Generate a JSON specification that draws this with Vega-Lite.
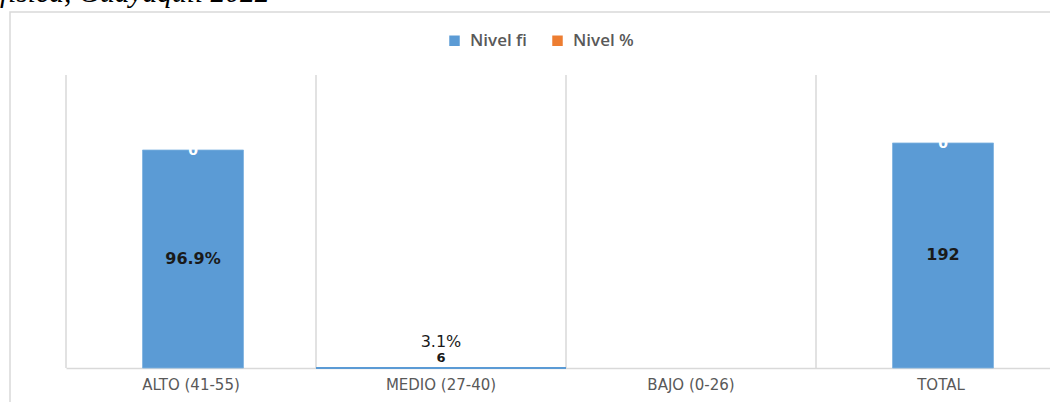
{
  "$schema": "https://vega.github.io/schema/vega-lite/v6.json",
  "autosize": {"type": "none"},
  "padding": {"left": 10, "top": 12, "right": 0, "bottom": 0},
  "width": 1070,
  "height": 400,
  "background": "#ffffff",
  "title": {
    "text": "física, Guayaquil 2022",
    "orient": "top",
    "anchor": "start",
    "frame": "group",
    "baseline": "alphabetic",
    "offset": 0,
    "dx": -10,
    "dy": 19,
    "font": "Liberation Serif",
    "fontStyle": "italic",
    "fontWeight": "normal",
    "fontSize": 29.5,
    "color": "#000000"
  },
  "config": {
    "view": {"stroke": "#d9d9d9", "strokeWidth": 1.5},
    "axis": {"grid": false}
  },
  "data": {
    "values": [
      {"nivel": "ALTO (41-55)", "fi": 186, "pct": "96.9%", "centro": "96.9%"},
      {"nivel": "MEDIO (27-40)", "fi": 6, "pct": "3.1%", "centro": "6"},
      {"nivel": "BAJO (0-26)", "fi": 0, "pct": "0%", "centro": ""},
      {"nivel": "TOTAL", "fi": 192, "pct": "100%", "centro": "192"}
    ]
  },
  "encoding": {
    "x": {
      "field": "nivel",
      "type": "nominal",
      "sort": null,
      "scale": {"range": [56, 1056], "paddingInner": 0, "paddingOuter": 0},
      "axis": {
        "title": null,
        "orient": "bottom",
        "offset": -44,
        "labelAngle": 0,
        "ticks": false,
        "domainColor": "#d9d9d9",
        "domainWidth": 1.5,
        "labelFont": "DejaVu Sans",
        "labelFontSize": 15,
        "labelColor": "#595959",
        "labelPadding": 9
      }
    }
  },
  "layer": [
    {
      "mark": {"type": "rule", "color": "#d9d9d9", "strokeWidth": 1.5},
      "encoding": {
        "x": {"field": "nivel", "type": "nominal", "sort": null, "bandPosition": 0},
        "y": {"datum": 0, "type": "quantitative", "scale": {"domain": [0, 250], "range": [356, 63], "nice": false}, "axis": null},
        "y2": {"datum": 250}
      }
    },
    {
      "transform": [{"filter": {"field": "nivel", "oneOf": ["ALTO (41-55)", "TOTAL"]}}],
      "mark": {"type": "bar", "width": {"band": 0.404}, "xOffset": 2, "stroke": "#7fb3e0", "strokeWidth": 0.8},
      "encoding": {
        "y": {"field": "fi", "type": "quantitative"},
        "color": {
          "datum": "Nivel fi",
          "type": "nominal",
          "scale": {"domain": ["Nivel fi", "Nivel %"], "range": ["#5B9BD5", "#ED7D31"]},
          "legend": {
            "title": null,
            "orient": "none",
            "direction": "horizontal",
            "legendX": 436,
            "legendY": 20,
            "symbolType": "square",
            "symbolSize": 110,
            "symbolStrokeWidth": 0,
            "labelFont": "Open Sans",
            "labelFontSize": 17,
            "labelFontWeight": 600,
            "labelColor": "#595959",
            "labelOffset": 7,
            "columnPadding": 22
          }
        }
      }
    },
    {
      "transform": [{"filter": {"field": "nivel", "equal": "MEDIO (27-40)"}}],
      "mark": {"type": "rule", "color": "#5B9BD5", "strokeWidth": 2},
      "encoding": {
        "x": {"field": "nivel", "type": "nominal", "sort": null, "bandPosition": 0},
        "x2": {"field": "nivel", "bandPosition": 1},
        "y": {"datum": 0, "type": "quantitative"}
      }
    },
    {
      "transform": [
        {"filter": {"field": "nivel", "oneOf": ["ALTO (41-55)", "TOTAL"]}},
        {"calculate": "datum.fi / 2", "as": "mitad"}
      ],
      "mark": {"type": "text", "font": "DejaVu Sans", "fontSize": 16, "fontWeight": "bold", "color": "#1a1a1a", "baseline": "middle", "dx": 2},
      "encoding": {
        "y": {"field": "mitad", "type": "quantitative"},
        "text": {"field": "centro"}
      }
    },
    {
      "transform": [{"filter": {"field": "nivel", "oneOf": ["ALTO (41-55)", "TOTAL"]}}],
      "mark": {"type": "text", "font": "DejaVu Sans", "fontSize": 14, "fontWeight": "bold", "color": "#ffffff", "baseline": "middle", "dy": 1, "dx": 2},
      "encoding": {
        "y": {"field": "fi", "type": "quantitative"},
        "text": {"value": "0"}
      }
    },
    {
      "transform": [{"filter": {"field": "nivel", "equal": "MEDIO (27-40)"}}],
      "mark": {"type": "text", "font": "DejaVu Sans", "fontSize": 13, "fontWeight": "bold", "color": "#1a1a1a", "baseline": "middle", "dy": -3},
      "encoding": {
        "y": {"field": "fi", "type": "quantitative"},
        "text": {"field": "centro"}
      }
    },
    {
      "transform": [{"filter": {"field": "nivel", "equal": "MEDIO (27-40)"}}],
      "mark": {"type": "text", "font": "DejaVu Sans", "fontSize": 16, "color": "#1a1a1a", "baseline": "middle", "dy": -19},
      "encoding": {
        "y": {"field": "fi", "type": "quantitative"},
        "text": {"field": "pct"}
      }
    }
  ]
}
